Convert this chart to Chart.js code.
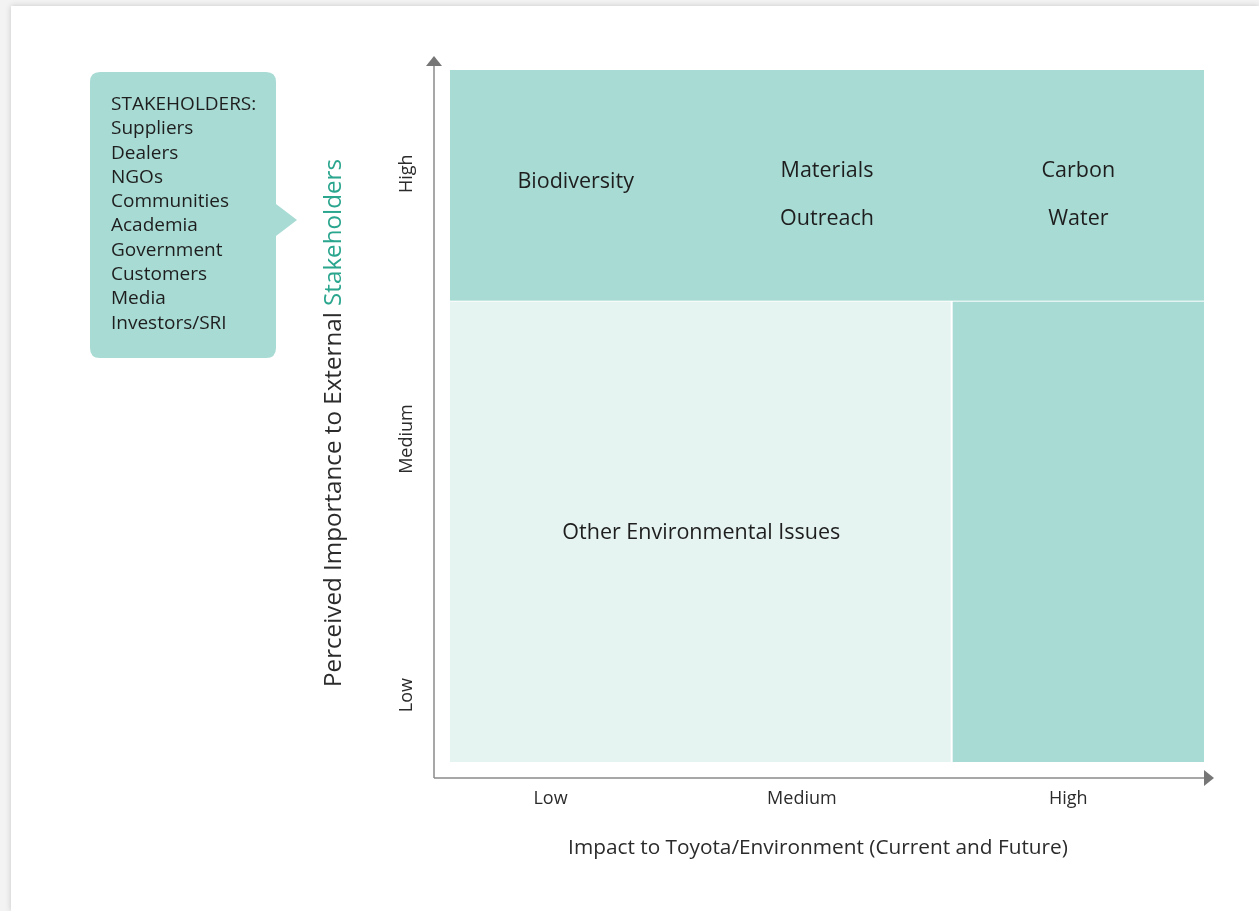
<!DOCTYPE html>
<html>
<head>
<meta charset="utf-8">
<script src="https://cdn.jsdelivr.net/npm/chart.js@4.4.1/dist/chart.umd.min.js"></script>
<style>
  html, body { margin:0; padding:0; background:#f3f3f3; width:1259px; height:911px; overflow:hidden; }
  #card { position:absolute; left:11px; top:6px; right:0; bottom:0; background:#fff; box-shadow:0 0 6px rgba(0,0,0,0.18); }
  #c { position:absolute; left:0; top:0; }
</style>
</head>
<body>
<div id="card"></div>
<canvas id="c" width="1259" height="911"></canvas>
<script>
// ---- data ----
const xCategories = ['Low', 'Medium', 'High'];
const xTickValues = [0.4, 1.4, 2.46];
const yCategories = ['Low', 'Medium', 'High'];
const yTickValues = [0.29, 1.4, 2.55];
const xAxisTitle = 'Impact to Toyota/Environment (Current and Future)';
const yAxisTitleParts = ['Perceived Importance to External ', 'Stakeholders'];

// matrix zones (axis units)
const zoneX0 = [0, 0, 2];
const zoneX1 = [3, 2, 3];
const zoneY0 = [2, 0, 0];
const zoneY1 = [3, 2, 2];
const zoneLevel = ['strong', 'light', 'strong'];

// issues placed in the matrix
const issueNames = ['Biodiversity', 'Materials', 'Outreach', 'Carbon', 'Water', 'Other Environmental Issues'];
const issueX = [0.5, 1.5, 1.5, 2.5, 2.5, 1.0];
const issueY = [2.52, 2.57, 2.36, 2.57, 2.36, 1.0];

const stakeholders = ['STAKEHOLDERS:', 'Suppliers', 'Dealers', 'NGOs', 'Communities', 'Academia', 'Government', 'Customers', 'Media', 'Investors/SRI'];

// ---- styles ----
const FONT = '"Open Sans", Lato, sans-serif';
const zoneColors = { strong: '#a8dbd4', light: '#e5f4f1' };
const TEAL_TEXT = '#2aa58e';
const TEXT = '#1e1e1e';
const AXIS = '#8a8a8a';

const matrixPlugin = {
  id: 'matrix',
  beforeDatasetsDraw(chart) {
    const ctx = chart.ctx;
    const xs = chart.scales.x, ys = chart.scales.y;
    ctx.save();
    for (let i = 0; i < zoneX0.length; i++) {
      const l = xs.getPixelForValue(zoneX0[i]);
      const r = xs.getPixelForValue(zoneX1[i]);
      const t = ys.getPixelForValue(zoneY1[i]);
      const b = ys.getPixelForValue(zoneY0[i]);
      ctx.fillStyle = zoneColors[zoneLevel[i]];
      const gr = zoneX1[i] < 3 ? 2 : 0;
      const gt = zoneY1[i] < 3 ? 1 : 0;
      ctx.fillRect(l, t + gt, r - l - gr, b - t - gt);
    }
    const a = chart.chartArea;
    const ox = a.left, oy = a.bottom;
    ctx.strokeStyle = AXIS; ctx.lineWidth = 1.5;
    ctx.beginPath();
    ctx.moveTo(ox, oy); ctx.lineTo(ox, a.top - 6);
    ctx.moveTo(ox, oy); ctx.lineTo(a.right + 1, oy);
    ctx.stroke();
    ctx.fillStyle = '#767676';
    ctx.beginPath();
    ctx.moveTo(ox, a.top - 14); ctx.lineTo(ox - 8, a.top - 4); ctx.lineTo(ox + 8, a.top - 4); ctx.closePath(); ctx.fill();
    ctx.beginPath();
    ctx.moveTo(a.right + 10, oy); ctx.lineTo(a.right, oy - 8); ctx.lineTo(a.right, oy + 8); ctx.closePath(); ctx.fill();
    ctx.restore();
  },
  afterDatasetsDraw(chart) {
    const ctx = chart.ctx;
    const xs = chart.scales.x, ys = chart.scales.y;
    const a = chart.chartArea;
    ctx.save();
    const meta = chart.getDatasetMeta(0);
    ctx.fillStyle = TEXT;
    ctx.font = '21.5px ' + FONT;
    ctx.textAlign = 'center'; ctx.textBaseline = 'middle';
    meta.data.forEach((pt, i) => ctx.fillText(issueNames[i], pt.x, pt.y + 1.5));

    ctx.fillStyle = '#2b2b2b';
    ctx.font = '18px ' + FONT;
    xCategories.forEach((c, i) => ctx.fillText(c, xs.getPixelForValue(xTickValues[i]), a.bottom + 21));
    ctx.font = '20.8px ' + FONT;
    ctx.fillText(xAxisTitle, 818, a.bottom + 70);

    ctx.font = '18px ' + FONT;
    yCategories.forEach((c, i) => {
      ctx.save();
      ctx.translate(a.left - 27, ys.getPixelForValue(yTickValues[i]));
      ctx.rotate(-Math.PI / 2);
      ctx.fillText(c, 0, 0);
      ctx.restore();
    });

    ctx.font = '24.2px ' + FONT;
    const w0 = ctx.measureText(yAxisTitleParts[0]).width;
    const w1 = ctx.measureText(yAxisTitleParts[1]).width;
    ctx.save();
    ctx.translate(a.left - 100, 423);
    ctx.rotate(-Math.PI / 2);
    ctx.textAlign = 'left';
    ctx.fillStyle = '#2b2b2b';
    ctx.fillText(yAxisTitleParts[0], -(w0 + w1) / 2, 0);
    ctx.fillStyle = TEAL_TEXT;
    ctx.fillText(yAxisTitleParts[1], -(w0 + w1) / 2 + w0, 0);
    ctx.restore();

    const bx = 90, by = 72, bw = 186, bh = 286, r = 10;
    ctx.fillStyle = zoneColors.strong;
    ctx.beginPath();
    ctx.moveTo(bx + r, by);
    ctx.lineTo(bx + bw - r, by); ctx.quadraticCurveTo(bx + bw, by, bx + bw, by + r);
    ctx.lineTo(bx + bw, by + 132);
    ctx.lineTo(bx + bw + 21, by + 148);
    ctx.lineTo(bx + bw, by + 164);
    ctx.lineTo(bx + bw, by + bh - r); ctx.quadraticCurveTo(bx + bw, by + bh, bx + bw - r, by + bh);
    ctx.lineTo(bx + r, by + bh); ctx.quadraticCurveTo(bx, by + bh, bx, by + bh - r);
    ctx.lineTo(bx, by + r); ctx.quadraticCurveTo(bx, by, bx + r, by);
    ctx.closePath(); ctx.fill();
    ctx.fillStyle = TEXT;
    ctx.font = '19px ' + FONT;
    ctx.textAlign = 'left';
    stakeholders.forEach((s, i) => ctx.fillText(s, 111, 104.5 + i * 24.3));
    ctx.restore();
  }
};

new Chart(document.getElementById('c'), {
  type: 'scatter',
  data: {
    datasets: [{
      label: 'Issues',
      data: issueNames.map((n, i) => ({ x: issueX[i], y: issueY[i] })),
      pointRadius: 0,
      pointHoverRadius: 0
    }]
  },
  options: {
    responsive: false,
    animation: false,
    devicePixelRatio: 1,
    layout: { padding: { left: 434, right: 55, top: 70, bottom: 133 } },
    scales: {
      x: { type: 'linear', min: -0.0637, max: 3, display: false },
      y: { type: 'linear', min: -0.0694, max: 3, display: false }
    },
    plugins: { legend: { display: false }, tooltip: { enabled: false } }
  },
  plugins: [matrixPlugin]
});
</script>
</body>
</html>
